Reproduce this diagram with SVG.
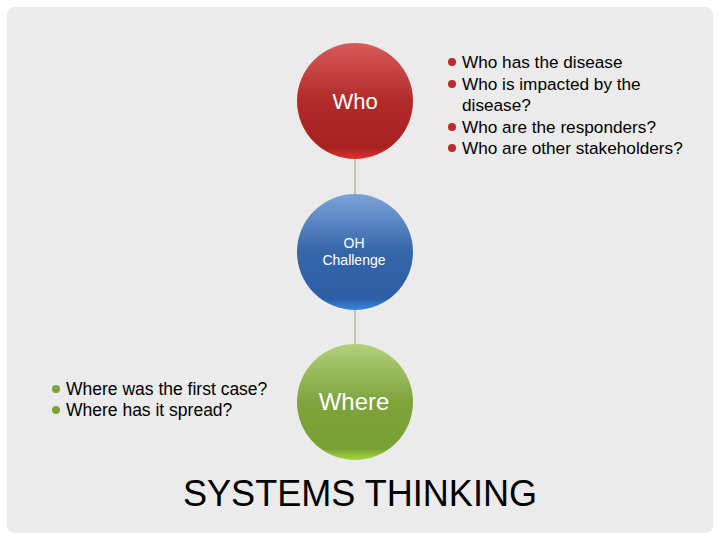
<svg xmlns="http://www.w3.org/2000/svg" width="720" height="540" viewBox="0 0 720 540">
<style>
.t{font-family:"Liberation Sans",Arial,sans-serif;fill:#000}
.w{font-family:"Liberation Sans",Arial,sans-serif;fill:#fff;text-anchor:middle}
.c{stroke:#a9b97a;stroke-width:1.3}
</style>
<defs>
<linearGradient id="gr" x1="0" y1="0" x2="0" y2="1"><stop offset="0" stop-color="#d85a5a"/><stop offset="0.5" stop-color="#b22a2a"/><stop offset="0.9" stop-color="#a82222"/><stop offset="1" stop-color="#e03030"/></linearGradient>
<linearGradient id="gb" x1="0" y1="0" x2="0" y2="1"><stop offset="0" stop-color="#7ba3d8"/><stop offset="0.5" stop-color="#3566aa"/><stop offset="0.9" stop-color="#2c5ea6"/><stop offset="1" stop-color="#3a86e0"/></linearGradient>
<linearGradient id="gg" x1="0" y1="0" x2="0" y2="1"><stop offset="0" stop-color="#b2d07a"/><stop offset="0.5" stop-color="#7ea33c"/><stop offset="0.9" stop-color="#78a032"/><stop offset="1" stop-color="#a6d840"/></linearGradient>
</defs>
<rect width="720" height="540" fill="#fff"/>
<rect x="7" y="7" width="706" height="526" rx="8" fill="#ebebeb"/>
<g id="connectors">
<line class="c" x1="355" y1="159" x2="355" y2="194"/>
<line class="c" x1="355" y1="310" x2="355" y2="344"/>
</g>
<g id="who"><circle cx="355" cy="101" r="58" fill="url(#gr)"/><text class="w" x="355" y="109" font-size="22">Who</text></g>
<g id="oh"><circle cx="355" cy="252" r="58" fill="url(#gb)"/><text class="w" x="354" y="248" font-size="14">OH</text><text class="w" x="354" y="265" font-size="14">Challenge</text></g>
<g id="where"><circle cx="355" cy="402" r="58" fill="url(#gg)"/><text class="w" x="354" y="410" font-size="24">Where</text></g>
<g id="who-list">
<circle cx="452" cy="62" r="4" fill="#c0282a"/><text class="t" x="462" y="68" font-size="17.2">Who has the disease</text>
<circle cx="452" cy="84" r="4" fill="#c0282a"/><text class="t" x="462" y="90" font-size="17.2">Who is impacted by the</text>
<text class="t" x="462" y="111" font-size="17.2">disease?</text>
<circle cx="452" cy="127" r="4" fill="#c0282a"/><text class="t" x="462" y="133" font-size="17.2">Who are the responders?</text>
<circle cx="452" cy="148" r="4" fill="#c0282a"/><text class="t" x="462" y="154" font-size="17.2">Who are other stakeholders?</text>
</g>
<g id="where-list">
<circle cx="56" cy="389" r="4" fill="#7aa33a"/><text class="t" x="66" y="395" font-size="17.5">Where was the first case?</text>
<circle cx="56" cy="410" r="4" fill="#7aa33a"/><text class="t" x="66" y="416" font-size="17.5">Where has it spread?</text>
</g>
<text class="t" x="360" y="506" font-size="36" text-anchor="middle" textLength="354" lengthAdjust="spacingAndGlyphs">SYSTEMS THINKING</text>
</svg>
